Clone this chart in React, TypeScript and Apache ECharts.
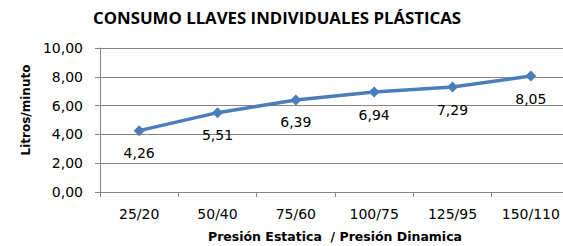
import React, { useEffect, useRef } from "react";
import * as echarts from "echarts";

const categories = ["25/20", "50/40", "75/60", "100/75", "125/95", "150/110"];
const consumo = [4.26, 5.51, 6.39, 6.94, 7.29, 8.05];
const titleText = "CONSUMO LLAVES INDIVIDUALES PLÁSTICAS";
const yName = "Litros/minuto";
const xName = "Presión Estatica  / Presión Dinamica";

const fmt = (v: number) => v.toFixed(2).replace(".", ",");
const FONT = "'DejaVu Sans', 'Open Sans', sans-serif";
const TFONT = "'Open Sans', 'DejaVu Sans', sans-serif";

export default function App() {
  const ref = useRef<HTMLDivElement>(null);
  useEffect(() => {
    if (!ref.current) return;
    const chart = echarts.init(ref.current, undefined, { renderer: "svg" });
    chart.setOption({
      animation: false,
      backgroundColor: "#ffffff",
      title: {
        text: titleText,
        left: 88,
        top: 4,
        textStyle: { fontFamily: TFONT, fontSize: 16.8, fontWeight: "bold", color: "#000" },
      },
      grid: { left: 100, right: -7, top: 48, bottom: 54, outerBoundsMode: "none", containLabel: false },
      xAxis: {
        type: "category",
        data: categories,
        boundaryGap: true,
        name: xName,
        nameLocation: "middle",
        nameGap: 38,
        nameTextStyle: { fontFamily: FONT, fontSize: 12.5, fontWeight: "bold", color: "#000" },
        axisLine: { lineStyle: { color: "#868686" } },
        axisTick: { show: true, length: 5, lineStyle: { color: "#868686" } },
        axisLabel: { fontFamily: FONT, fontSize: 14, color: "#000", margin: 15 },
      },
      yAxis: {
        type: "value",
        min: 0,
        max: 10,
        interval: 2,
        name: yName,
        nameLocation: "middle",
        nameGap: 62,
        nameTextStyle: { fontFamily: FONT, fontSize: 12, fontWeight: "bold", color: "#000", padding: [0, 0, 0, 20] },
        axisLine: { show: true, lineStyle: { color: "#868686" } },
        axisTick: { show: true, length: 5, lineStyle: { color: "#868686" } },
        axisLabel: { fontFamily: FONT, fontSize: 14, color: "#000", margin: 17, formatter: (v: number) => fmt(v) },
        splitLine: { show: true, lineStyle: { color: "#868686", width: 1 } },
      },
      series: [
        {
          type: "line",
          data: consumo,
          symbol: "diamond",
          symbolSize: 11,
          lineStyle: { color: "#4A7EBB", width: 3.5 },
          itemStyle: { color: "#4A7EBB" },
          label: {
            show: true,
            position: "bottom",
            distance: 10,
            fontFamily: FONT,
            fontSize: 14,
            color: "#000",
            formatter: (p: any) => fmt(p.value),
          },
        },
      ],
    });
    return () => chart.dispose();
  }, []);
  return (
    <div style={{ position: "absolute", left: 0, top: 0 }}>
      <div ref={ref} style={{ width: 563, height: 246 }} />
    </div>
  );
}
